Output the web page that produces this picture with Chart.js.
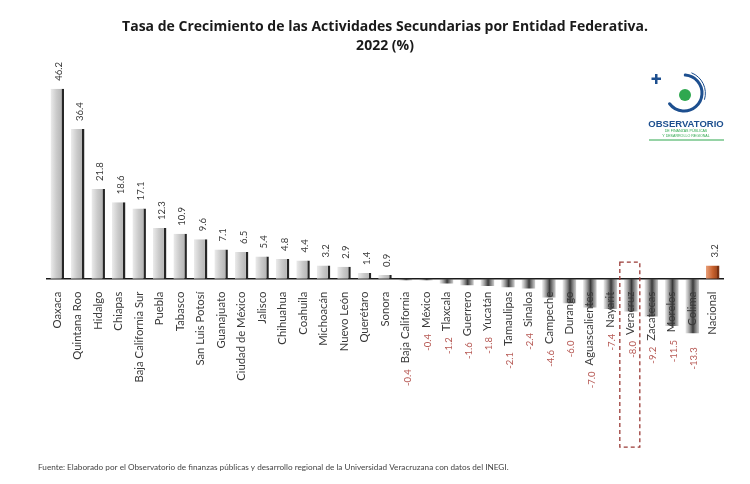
<!DOCTYPE html>
<html>
<head>
<meta charset="utf-8">
<script src="https://cdn.jsdelivr.net/npm/chart.js@4/dist/chart.umd.min.js"></script>
<style>
  html, body { margin: 0; padding: 0; background: #fff; }
  #wrap { position: relative; width: 750px; height: 484px; }
</style>
</head>
<body>
<div id="wrap"><canvas id="chart-bars" width="750" height="484"></canvas></div>
<script>
// categories and values
const estados = ['Oaxaca', 'Quintana Roo', 'Hidalgo', 'Chiapas', 'Baja California Sur', 'Puebla', 'Tabasco',
  'San Luis Potosí', 'Guanajuato', 'Ciudad de México', 'Jalisco', 'Chihuahua', 'Coahuila', 'Michoacán',
  'Nuevo León', 'Querétaro', 'Sonora', 'Baja California', 'México', 'Tlaxcala', 'Guerrero', 'Yucatán',
  'Tamaulipas', 'Sinaloa', 'Campeche', 'Durango', 'Aguascalientes', 'Nayarit', 'Veracruz', 'Zacatecas',
  'Morelos', 'Colima', 'Nacional'];
const crecimiento = [46.2, 36.4, 21.8, 18.6, 17.1, 12.3, 10.9, 9.6, 7.1, 6.5, 5.4, 4.8, 4.4, 3.2, 2.9, 1.4, 0.9,
  -0.4, -0.4, -1.2, -1.6, -1.8, -2.1, -2.4, -4.6, -6.0, -7.0, -7.4, -8.0, -9.2, -11.5, -13.3, 3.2];
const destacado = 'Veracruz';
const titulo = ['Tasa de Crecimiento de las Actividades Secundarias por Entidad Federativa.', '2022 (%)'];
const fuente = 'Fuente: Elaborado por el Observatorio de finanzas públicas y desarrollo regional de la Universidad Veracruzana con datos del INEGI.';

const tickSize = 11.3;
const tickPad = 5;
const valueFont = '9.5px Lato';

// horizontal gradient for each bar
function barFill(ctx) {
  const chart = ctx.chart;
  const xs = chart.scales.x;
  if (!xs || !chart.chartArea) return '#bbb';
  const i = ctx.dataIndex;
  const v = crecimiento[i];
  const cx = xs.getPixelForValue(i);
  const w = xs.width / estados.length * 0.66;
  const g = chart.ctx.createLinearGradient(cx - w / 2, 0, cx + w / 2, 0);
  if (estados[i] === 'Nacional') {
    g.addColorStop(0, '#e9a07a');
    g.addColorStop(0.5, '#c8622e');
    g.addColorStop(1, '#8a3a16');
  } else if (v < 0) {
    g.addColorStop(0, 'rgba(120,120,120,0.15)');
    g.addColorStop(0.55, '#3a3a3a');
    g.addColorStop(1, 'rgba(90,90,90,0.3)');
  } else {
    g.addColorStop(0, '#ececec');
    g.addColorStop(0.45, '#cacaca');
    g.addColorStop(1, '#acacac');
  }
  return g;
}

// value labels: above positive bars, below the state name for negatives
const valueLabels = {
  id: 'valueLabels',
  afterDatasetsDraw(chart) {
    const c = chart.ctx;
    const meta = chart.getDatasetMeta(0);
    const y0 = chart.scales.y.getPixelForValue(0);
    meta.data.forEach((bar, i) => {
      const v = crecimiento[i];
      const txt = v.toFixed(1);
      c.save();
      c.textBaseline = 'middle';
      if (v >= 0) {
        c.font = valueFont;
        c.fillStyle = '#3a3a3a';
        c.translate(bar.x + 2, bar.y - 8);
        c.rotate(-Math.PI / 2);
        c.textAlign = 'left';
      } else {
        c.font = tickSize + 'px Lato';
        const lw = c.measureText(estados[i]).width;
        const ys = Math.max(y0 + tickPad + lw, bar.y) + 14;
        c.font = valueFont;
        c.fillStyle = '#b75a55';
        c.translate(bar.x + 2, ys);
        c.rotate(-Math.PI / 2);
        c.textAlign = 'right';
      }
      c.fillText(txt, 0, 0);
      c.restore();
    });
  }
};

// dashed box around Veracruz, source note and logo
const extras = {
  id: 'extras',
  afterDraw(chart) {
    const c = chart.ctx;
    const xs = chart.scales.x, ys = chart.scales.y;
    const idx = estados.indexOf(destacado);
    const cx = xs.getPixelForValue(idx);
    const top = ys.getPixelForValue(4);
    const bottom = ys.getPixelForValue(-41);
    c.save();
    c.strokeStyle = '#9a3a36';
    c.lineWidth = 1.3;
    c.setLineDash([4, 3]);
    c.strokeRect(cx - 11, top, 20, bottom - top);
    c.setLineDash([]);

    c.font = '8.2px Lato';
    c.fillStyle = '#444';
    c.textBaseline = 'middle';
    c.fillText(fuente, 38, 467);

    // logo
    c.strokeStyle = '#1d4f8f';
    c.lineWidth = 3;
    c.lineCap = 'round';
    c.beginPath();
    c.arc(684, 93, 18, -1.5, 2.5);
    c.stroke();
    c.lineWidth = 1;
    c.beginPath();
    c.arc(684, 93, 21.5, -1.2, 0.3);
    c.stroke();
    c.fillStyle = '#2fa84f';
    c.beginPath();
    c.arc(685, 95, 6, 0, Math.PI * 2);
    c.fill();
    c.fillStyle = '#1d4f8f';
    c.fillRect(655, 74, 2.5, 10);
    c.fillRect(651.5, 77.5, 9.5, 2.5);
    c.font = 'bold 9.5px "Liberation Sans Narrow", "Liberation Sans"';
    c.textAlign = 'center';
    c.fillText('OBSERVATORIO', 686, 124);
    c.fillStyle = '#2fa84f';
    c.font = '3.6px "Liberation Sans"';
    c.fillText('DE FINANZAS PÚBLICAS', 686, 131);
    c.fillText('Y DESARROLLO REGIONAL', 686, 136);
    c.fillRect(649, 139.5, 75, 1);
    c.restore();
  }
};

let barCanvas = document.getElementById('chart-bars').getContext('2d');

let barChart = new Chart(barCanvas, {
  type: 'bar',
  data: {
    labels: estados,
    datasets: [{
      data: crecimiento,
      backgroundColor: barFill,
      borderColor: ctx => estados[ctx.dataIndex] === 'Nacional' ? '#7a3212' : '#262626',
      borderWidth: ctx => crecimiento[ctx.dataIndex] >= 0 ? {top: 0, right: 2.5, bottom: 0, left: 0} : 0,
      borderSkipped: false,
      barPercentage: 0.75,
      categoryPercentage: 0.88
    }]
  },
  options: {
    responsive: false,
    animation: false,
    layout: { padding: { left: 47, right: 27, top: 0, bottom: 41 } },
    plugins: {
      legend: { display: false },
      tooltip: { enabled: false },
      title: {
        display: true,
        text: titulo,
        color: '#1a1a1a',
        font: { family: 'Open Sans', size: 14, weight: 'bold', lineHeight: 1.4 },
        padding: { top: 17, bottom: 17 }
      }
    },
    scales: {
      x: {
        position: { y: 0 },
        grid: { display: false },
        border: { display: true, color: '#1a1a1a', width: 1.6 },
        ticks: {
          autoSkip: false,
          maxRotation: 90,
          minRotation: 90,
          padding: tickPad,
          z: 1,
          color: '#3a3a3a',
          font: { family: 'Lato', size: tickSize }
        }
      },
      y: {
        display: false,
        min: -40,
        max: 50
      }
    }
  },
  plugins: [valueLabels, extras]
});
</script>
</body>
</html>
